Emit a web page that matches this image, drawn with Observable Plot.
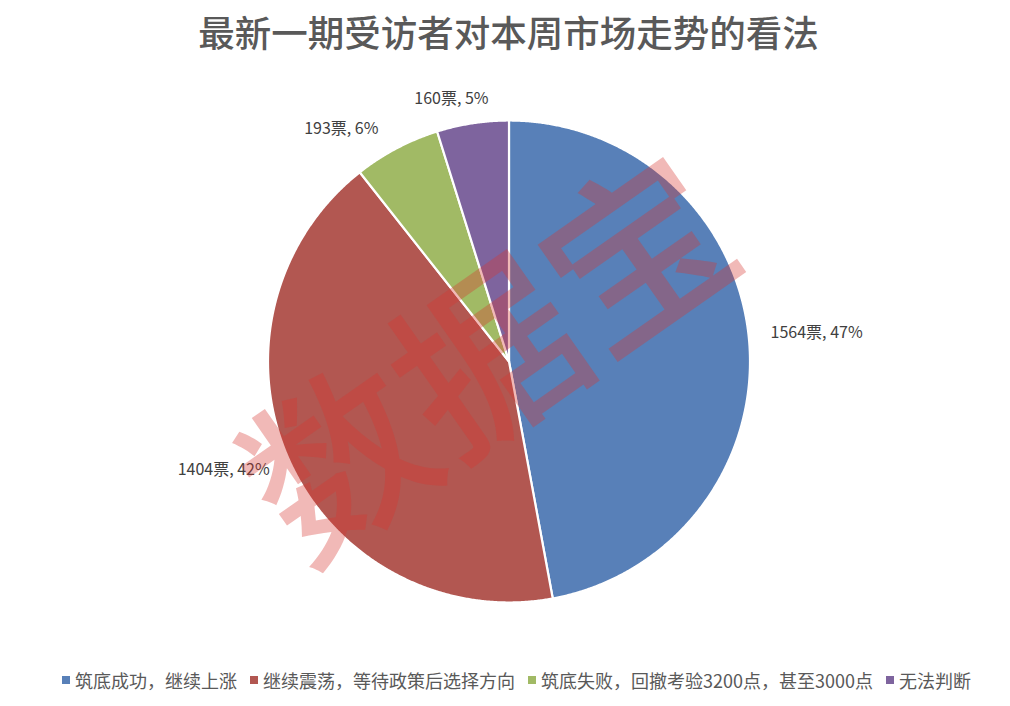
<!DOCTYPE html>
<html>
<head>
<meta charset="utf-8">
<script src="https://cdn.jsdelivr.net/npm/d3@7"></script>
<script src="https://cdn.jsdelivr.net/npm/@observablehq/plot@0.6"></script>
<style>
  html, body { margin: 0; padding: 0; background: #fff; }
  #wrap { width: 1010px; height: 706px; position: relative; overflow: hidden; }
  #legend { position: absolute; left: 12px; top: 662px; width: 1010px; height: 36px;
    display: flex; justify-content: center; align-items: center;
    font-family: "Noto Sans CJK SC", "DejaVu Sans", sans-serif; font-size: 18px; color: #595959; }
  .item { display: flex; align-items: center; margin: 0 7px 0 6px; white-space: nowrap; }
  .sw { width: 8px; height: 8px; margin-right: 5px; }
</style>
</head>
<body>
<div id="wrap"><div id="chart"></div><div id="legend"></div></div>
<script>
const title = "最新一期受访者对本周市场走势的看法";
const categories = ["筑底成功，继续上涨", "继续震荡，等待政策后选择方向", "筑底失败，回撤考验3200点，甚至3000点", "无法判断"];
const votes = [1564, 1404, 193, 160];
const percents = [47, 42, 6, 5];
const colors = ["#5880b8", "#b25751", "#a1ba65", "#7e649e"];
const watermark = "数据宝";

const W = 1010, H = 660, cx = 508.5, cy = 361, R = 241;

const arcs = d3.pie().sort(null).value(d => d.v)(categories.map((c, i) => ({c, v: votes[i], p: percents[i]})));

// wedge polygons from pie angles
const pts = [];
for (const a of arcs) {
  const n = Math.max(4, Math.ceil((a.endAngle - a.startAngle) / 0.005));
  pts.push({c: a.data.c, x: 0, y: 0});
  for (let k = 0; k <= n; k++) {
    const t = a.startAngle + (a.endAngle - a.startAngle) * k / n;
    pts.push({c: a.data.c, x: Math.sin(t), y: Math.cos(t)});
  }
  pts.push({c: a.data.c, x: 0, y: 0});
}

const labels = arcs.map(a => {
  const m = (a.startAngle + a.endAngle) / 2;
  const s = Math.sin(m);
  const rr = 1.09;
  return {
    x: rr * s, y: rr * Math.cos(m),
    text: `${a.data.v}票, ${a.data.p}%`,
    anchor: s > 0.3 ? "start" : (s < -0.3 ? "end" : "middle"),
    small: a.data.p < 10
  };
});

const font = "'Noto Sans CJK SC', 'DejaVu Sans', sans-serif";
const lab = {x: "x", y: "y", text: "text", fontSize: 16, fill: "#404040"};

const chart = Plot.plot({
  width: W, height: H,
  margin: 0,
  x: {domain: [-cx / R, (W - cx) / R], axis: null},
  y: {domain: [-(H - cy) / R, cy / R], axis: null},
  color: {domain: categories, range: colors},
  style: {fontFamily: font, background: "#fff"},
  marks: [
    Plot.line(pts, {x: "x", y: "y", z: "c", fill: "c", stroke: "#fff", strokeWidth: 2.2, strokeLinejoin: "round"}),
    Plot.text(labels.filter(d => d.anchor === "start"), {...lab, textAnchor: "start", dy: -5}),
    Plot.text(labels.filter(d => d.anchor === "end" && !d.small), {...lab, textAnchor: "end"}),
    Plot.text(labels.filter(d => d.anchor === "end" && d.small), {...lab, textAnchor: "end", dx: -8}),
    Plot.text(labels.filter(d => d.anchor === "middle"), {...lab, textAnchor: "middle", dx: -18, dy: -3}),
    Plot.text([title], {frameAnchor: "top", dy: 35, dx: 3, text: d => d, fontSize: 36.5, fontWeight: 500, fill: "#595959", lineAnchor: "middle"}),
    Plot.text([watermark], {x: (493 - cx) / R, y: (cy - 365) / R, text: d => d, rotate: -35, fontSize: 182, fontWeight: 500,
      fill: "rgb(215,55,50)", fillOpacity: 0.35, lineAnchor: "middle", textAnchor: "middle"})
  ]
});
document.getElementById("chart").appendChild(chart);

const leg = document.getElementById("legend");
categories.forEach((c, i) => {
  const it = document.createElement("div");
  it.className = "item";
  const sw = document.createElement("div");
  sw.className = "sw";
  sw.style.background = colors[i];
  const tx = document.createElement("span");
  tx.textContent = c;
  it.appendChild(sw); it.appendChild(tx);
  leg.appendChild(it);
});
</script>
</body>
</html>
